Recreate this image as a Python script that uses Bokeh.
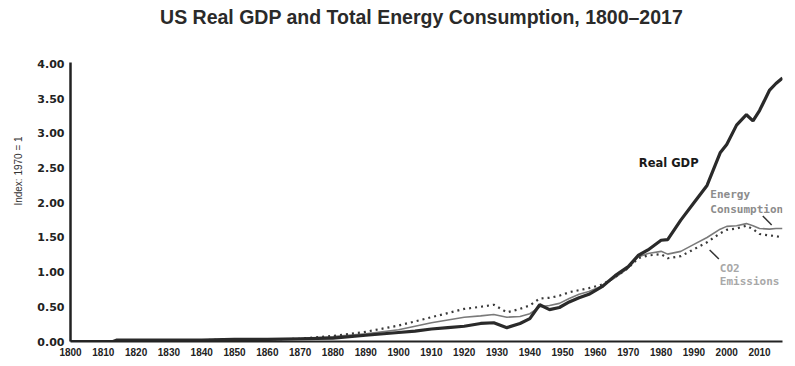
from bokeh.plotting import figure
from bokeh.models import FixedTicker, NumeralTickFormatter, Label, Range1d
from bokeh.embed import file_html
from bokeh.resources import INLINE

years = [1800, 1813, 1814, 1820, 1830, 1840, 1850, 1860, 1870, 1880, 1890,
         1900, 1905, 1910, 1915, 1920, 1925, 1929, 1933, 1937, 1940, 1943,
         1946, 1949, 1952, 1955, 1958, 1962, 1966, 1970, 1973, 1976, 1980,
         1982, 1986, 1990, 1994, 1998, 2000, 2003, 2006, 2008, 2010, 2013,
         2015, 2017]

real_gdp = [0.00, 0.00, 0.02, 0.02, 0.02, 0.02, 0.03, 0.03, 0.04, 0.05, 0.09,
            0.13, 0.15, 0.18, 0.20, 0.22, 0.26, 0.27, 0.20, 0.26, 0.33, 0.53,
            0.46, 0.49, 0.57, 0.63, 0.68, 0.79, 0.95, 1.08, 1.24, 1.32, 1.46,
            1.47, 1.75, 2.00, 2.25, 2.72, 2.84, 3.12, 3.27, 3.18, 3.33, 3.62,
            3.72, 3.80]

energy = [0.00, 0.00, 0.02, 0.02, 0.02, 0.02, 0.03, 0.03, 0.04, 0.07, 0.11,
          0.17, 0.22, 0.27, 0.31, 0.35, 0.37, 0.39, 0.35, 0.36, 0.40, 0.50,
          0.52, 0.55, 0.62, 0.68, 0.72, 0.80, 0.92, 1.06, 1.22, 1.27, 1.30,
          1.26, 1.30, 1.40, 1.50, 1.62, 1.66, 1.67, 1.70, 1.67, 1.63, 1.62,
          1.63, 1.63]

co2 = [0.00, 0.00, 0.02, 0.02, 0.02, 0.02, 0.03, 0.03, 0.04, 0.08, 0.14,
       0.23, 0.29, 0.35, 0.41, 0.47, 0.50, 0.53, 0.42, 0.47, 0.52, 0.62,
       0.63, 0.66, 0.71, 0.74, 0.77, 0.82, 0.93, 1.06, 1.20, 1.24, 1.26,
       1.20, 1.23, 1.33, 1.43, 1.56, 1.61, 1.63, 1.67, 1.62, 1.55, 1.53,
       1.52, 1.50]

x_ticks = list(range(1800, 2011, 10))
y_ticks = [0.0, 0.5, 1.0, 1.5, 2.0, 2.5, 3.0, 3.5, 4.0]

title_text = "US Real GDP and Total Energy Consumption, 1800\u20132017"
y_label_text = "Index: 1970 = 1"

p = figure(width=787, height=358, output_backend="svg", toolbar_location=None,
           x_range=Range1d(1800, 2017), y_range=Range1d(0, 4.917),
           min_border_left=70, min_border_right=5, min_border_top=0,
           min_border_bottom=0, title=None)
p.background_fill_color = "white"
p.border_fill_color = "white"
p.outline_line_color = None
p.xgrid.visible = False
p.ygrid.visible = False

p.line(years, energy, line_color="#7a7a7a", line_width=1.6)
p.line(years, co2, line_color="#3a3a3a", line_width=2.2, line_dash="2 4")
p.line(years, real_gdp, line_color="#2a2a2a", line_width=3.2)

p.xaxis.ticker = FixedTicker(ticks=x_ticks)
p.yaxis.ticker = FixedTicker(ticks=y_ticks)
p.yaxis.formatter = NumeralTickFormatter(format="0.00")
p.yaxis.bounds = (0, 4.02)
for ax in (p.xaxis[0], p.yaxis[0]):
    ax.major_tick_line_color = None
    ax.minor_tick_line_color = None
    ax.major_tick_out = 0
    ax.major_tick_in = 0
    ax.axis_line_color = "#222222"
    ax.major_label_text_color = "#222222"
    ax.major_label_text_font_style = "bold"
p.yaxis.axis_line_width = 2.5
p.xaxis.axis_line_width = 2
p.xaxis.major_label_text_font = "Liberation Sans"
p.xaxis.major_label_text_font_size = "10px"
p.xaxis.major_label_standoff = 6
p.xaxis.axis_label_standoff = 0
p.yaxis.major_label_text_font = "DejaVu Sans"
p.yaxis.major_label_text_font_size = "11px"
p.yaxis.major_label_standoff = 6
p.yaxis.axis_label = y_label_text
p.yaxis.axis_label_text_font = "Liberation Sans"
p.yaxis.axis_label_text_font_style = "normal"
p.yaxis.axis_label_text_font_size = "10px"
p.yaxis.axis_label_text_color = "#333333"
p.yaxis.axis_label_standoff = 10

p.add_layout(Label(x=1907.0, y=4.68, text=title_text, text_font="Liberation Sans",
                   text_font_style="bold", text_font_size="19.5px",
                   text_color="#2a2a2a", text_align="center", text_baseline="middle"))

p.add_layout(Label(x=1973.2, y=2.58, text="Real GDP", text_font="DejaVu Sans",
                   text_font_style="bold", text_font_size="11.5px",
                   text_color="#1a1a1a", text_baseline="middle"))
p.add_layout(Label(x=1995.0, y=2.12, text="Energy", text_font="DejaVu Sans Mono",
                   text_font_style="bold", text_font_size="11px",
                   text_color="#8c8c8c", text_baseline="middle"))
p.add_layout(Label(x=1995.0, y=1.91, text="Consumption", text_font="DejaVu Sans Mono",
                   text_font_style="bold", text_font_size="11px",
                   text_color="#8c8c8c", text_baseline="middle"))
p.add_layout(Label(x=1997.9, y=1.05, text="CO2", text_font="DejaVu Sans Mono",
                   text_font_style="bold", text_font_size="11px",
                   text_color="#a8a8a8", text_baseline="middle"))
p.add_layout(Label(x=1997.9, y=0.86, text="Emissions", text_font="DejaVu Sans Mono",
                   text_font_style="bold", text_font_size="11px",
                   text_color="#a8a8a8", text_baseline="middle"))

p.line([2011.0, 2013.7], [1.81, 1.68], line_color="#333333", line_width=1.5)
p.line([1994.8, 1997.6], [1.32, 1.19], line_color="#333333", line_width=1.5)

open("out.html", "w").write(file_html(p, INLINE))
